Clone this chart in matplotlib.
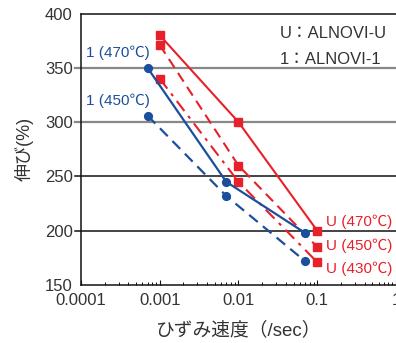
import matplotlib
matplotlib.use("Agg")
import matplotlib.pyplot as plt

plt.rcParams['font.family'] = ['Liberation Sans', 'Noto Sans CJK JP', 'DejaVu Sans']

# Data
u_x = [0.001, 0.01, 0.1]
u470 = [380, 300, 200]
u450 = [371, 260, 185]
u430 = [340, 245, 171]

a_x = [0.0007, 0.007, 0.07]
a470 = [350, 245, 198]
a450 = [306, 232, 172]

xticks = [0.0001, 0.001, 0.01, 0.1, 1]
xticklabels = ['0.0001', '0.001', '0.01', '0.1', '1']
yticks = [150, 200, 250, 300, 350, 400]

RED = '#e8202a'
BLUE = '#1b4f9c'

fig = plt.figure(figsize=(3.96, 3.43), dpi=100)
ax = fig.add_axes([0.2045, 0.169, 0.7955, 0.7916])

ax.set_xscale('log')
ax.set_xlim(1e-4, 1)
ax.set_ylim(150, 400)

# grid lines
for y, c, lw in [(200, '#111111', 1.1), (250, '#111111', 1.1),
                 (300, '#888888', 1.6), (350, '#888888', 1.6)]:
    ax.plot([-0.02, 1], [y, y], transform=ax.get_yaxis_transform(),
            color=c, lw=lw, clip_on=False, zorder=1)

# red series
ms_sq = 6.2
ax.plot(u_x, u470, '-', color=RED, lw=1.5, marker='s', ms=ms_sq, mec=RED, mfc=RED, zorder=3)
ax.plot(u_x, u450, '--', color=RED, lw=1.5, dashes=(5, 3), marker='s', ms=ms_sq, mec=RED, mfc=RED, zorder=3)
ax.plot(u_x, u430, '-.', color=RED, lw=1.5, dashes=(6, 3, 1.5, 3), marker='s', ms=ms_sq, mec=RED, mfc=RED, zorder=3)

# blue series
ax.plot(a_x, a470, '-', color=BLUE, lw=1.6, marker='o', ms=5.6, mec=BLUE, mfc=BLUE, zorder=4)
ax.plot(a_x, a450, '--', color=BLUE, lw=1.6, dashes=(5, 3), marker='o', ms=5.6, mec=BLUE, mfc=BLUE, zorder=4)

# labels
ax.text(0.000116, 364, '1 (470℃)', color=BLUE, fontsize=11, ha='left', va='center')
ax.text(0.000116, 320, '1 (450℃)', color=BLUE, fontsize=11, ha='left', va='center')
ax.text(0.128, 208, 'U (470℃)', color=RED, fontsize=11, ha='left', va='center')
ax.text(0.128, 186, 'U (450℃)', color=RED, fontsize=11, ha='left', va='center')
ax.text(0.128, 165, 'U (430℃)', color=RED, fontsize=11, ha='left', va='center')

ax.text(0.63, 0.925, 'U：ALNOVI-U', transform=ax.transAxes, color='#333333', fontsize=12, ha='left', va='center')
ax.text(0.63, 0.83, '1：ALNOVI-1', transform=ax.transAxes, color='#333333', fontsize=12, ha='left', va='center')

# spines
ax.spines['right'].set_visible(False)
for s in ['left', 'bottom', 'top']:
    ax.spines[s].set_color('#111111')
    ax.spines[s].set_linewidth(1.1)

ax.set_xticks(xticks)
ax.set_xticklabels(xticklabels)
ax.set_yticks(yticks)
ax.tick_params(axis='x', which='major', direction='in', length=3.5, width=0.8, pad=6,
               labelsize=12, colors='#111111', labelcolor='#333333')
ax.tick_params(axis='x', which='minor', direction='in', length=2, width=0.7, colors='#111111')
ax.tick_params(axis='y', which='major', length=0, pad=6, labelsize=12, labelcolor='#333333')
ax.tick_params(axis='y', which='minor', length=0)

ax.set_xlabel('ひずみ速度（/sec）', fontsize=13.5, color='#333333', labelpad=9)
ax.set_ylabel('伸び(%)', fontsize=13, color='#333333', labelpad=8)

fig.savefig('out.png', dpi=100)
